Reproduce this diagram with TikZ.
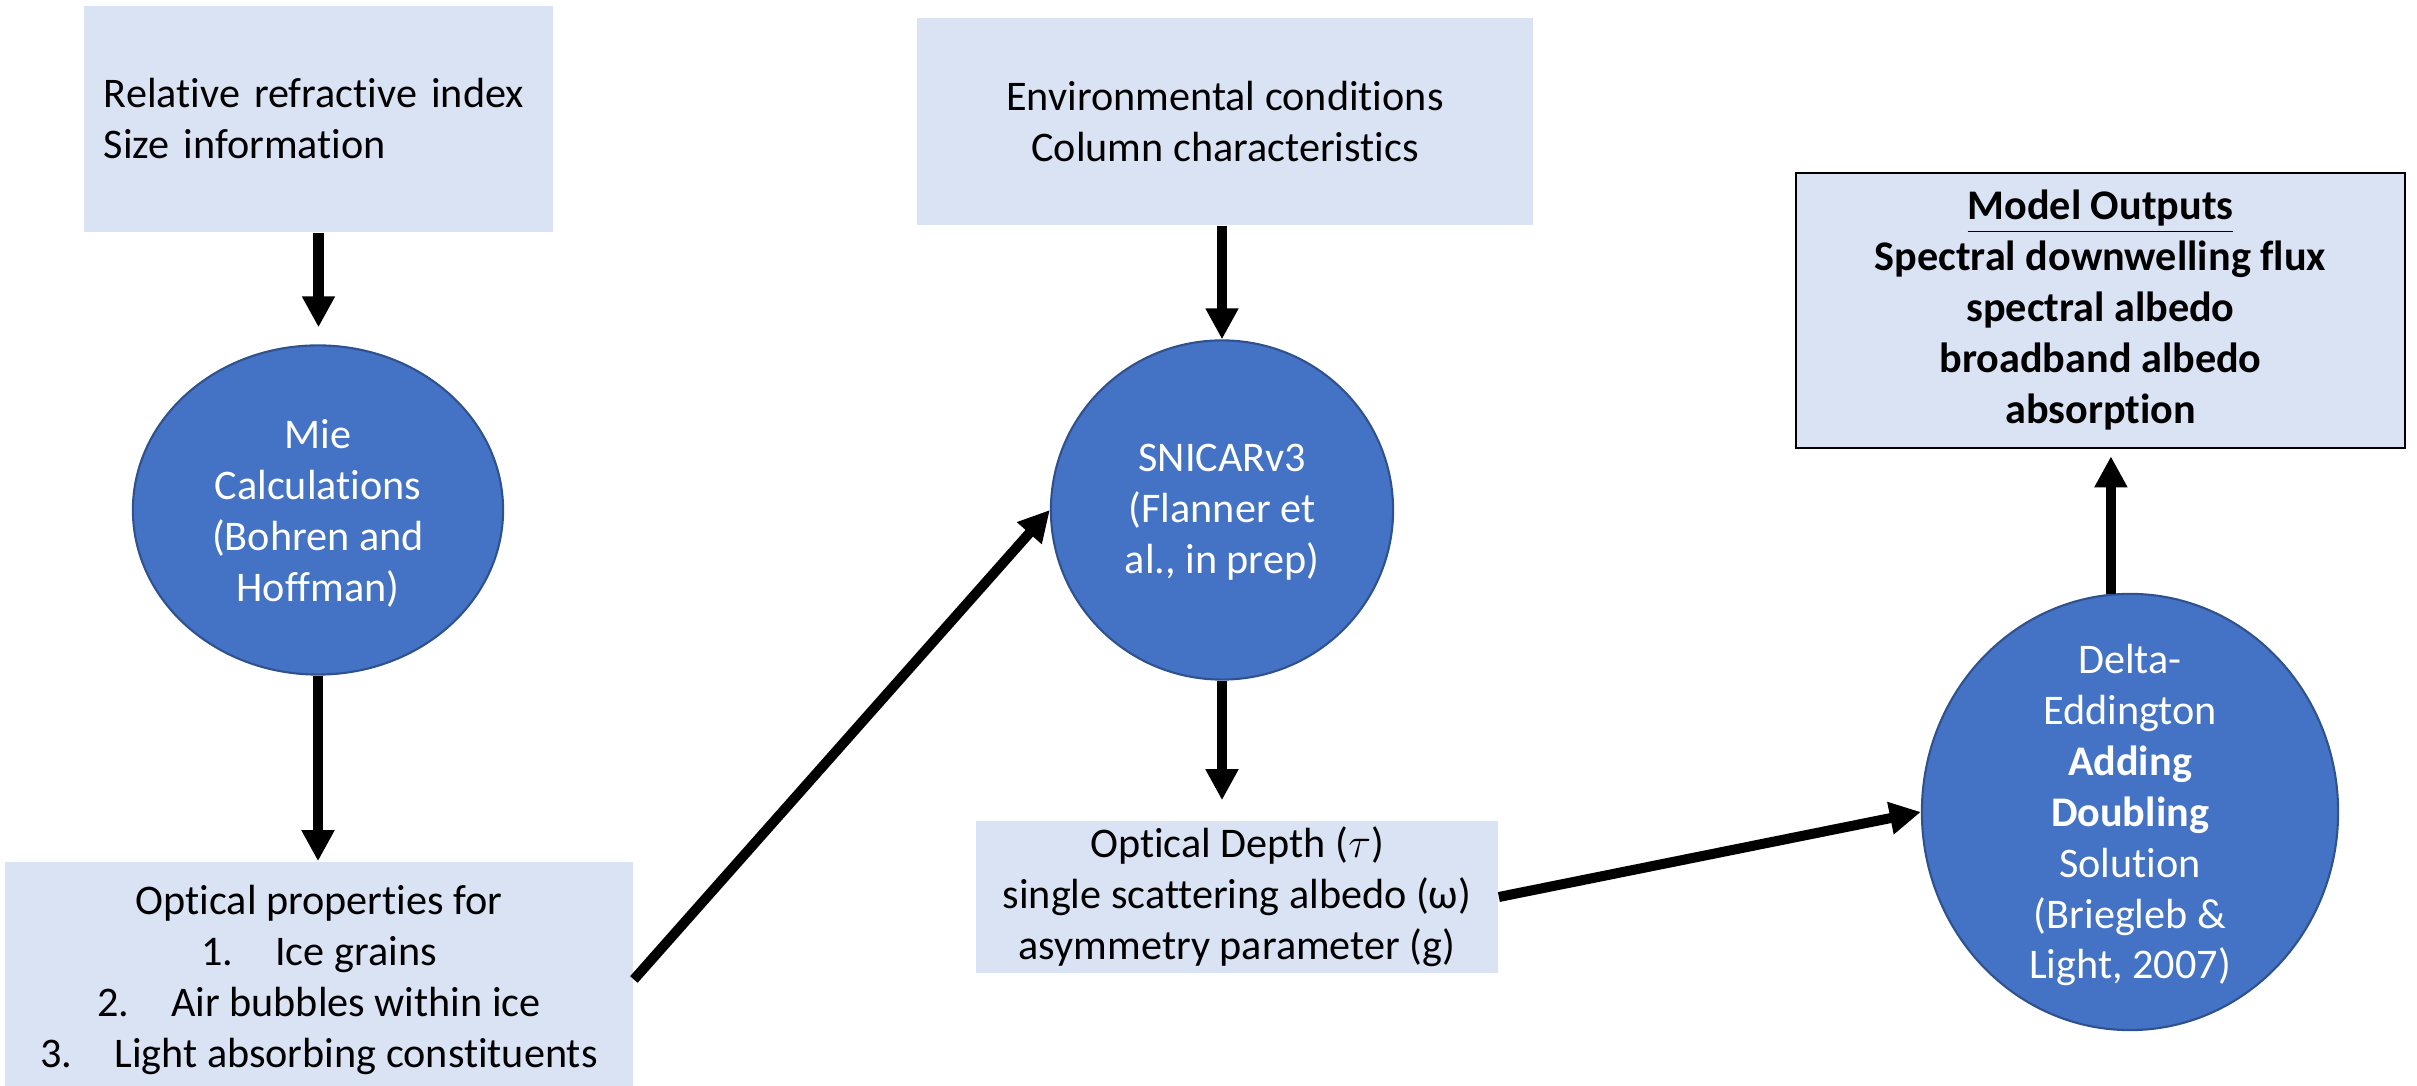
\documentclass[tikz,border=0pt]{standalone}
\usepackage{fontspec}
\setmainfont{Carlito}[Ligatures=NoCommon]
\usetikzlibrary{arrows.meta,shapes.geometric,calc}
\definecolor{paleblue}{HTML}{DAE3F3}
\definecolor{blobfill}{HTML}{4472C4}
\definecolor{blobedge}{HTML}{2F528F}

\begin{document}
\begin{tikzpicture}[x=0.01cm,y=-0.01cm,
  panel/.style={rectangle, fill=paleblue, inner sep=0pt, align=center, text=black,
                font=\fontsize{12}{14.5}\selectfont},
  blob/.style={ellipse, fill=blobfill, draw=blobedge, line width=0.6pt, inner sep=0pt},
  blobtext/.style={text=white, align=center, inner sep=0pt,
                   font=\fontsize{12}{14.5}\selectfont},
  arr/.style={line width=0.1cm, -{Triangle[length=0.31cm,width=0.31cm]}}
]
\useasboundingbox (0,0) rectangle (2417,1086);

% input panels
\node[panel, minimum width=4.69cm, minimum height=2.26cm, text width=4.29cm, align=left]
  (refr) at (318.5,119) {Relative refractive index\\Size information};
\node[panel, minimum width=6.16cm, minimum height=2.07cm]
  (env) at (1225,121.5) {Environmental conditions\\Column characteristics};

% intermediate panels
\node[panel, minimum width=6.28cm, minimum height=2.35cm]
  (props) at (319,979.5) {Optical properties for\\
    1.\hspace{0.42cm}Ice grains\\
    2.\hspace{0.42cm}Air bubbles within ice\\
    3.\hspace{0.42cm}Light absorbing constituents};
\node[panel, minimum width=5.22cm, minimum height=1.52cm]
  (od) at (1237,897) {Optical Depth ($\tau$)\\single scattering albedo (ω)\\asymmetry parameter (g)};

% output panel
\node[panel, draw=black, line width=0.7pt, minimum width=6.09cm, minimum height=2.75cm,
      font=\fontsize{12}{14.5}\selectfont\bfseries]
  (out) at (2100.5,310.5) {\underline{Model Outputs}\\Spectral downwelling flux\\spectral albedo\\broadband albedo\\absorption};

% model stages
\node[blob, minimum width=3.70cm, minimum height=3.29cm] (mie) at (318,510) {};
\node[blobtext] (mietext) at (318,513) {Mie\\Calculations\\(Bohren and\\Hoffman)};

\node[blob, minimum width=3.42cm, minimum height=3.39cm] (snicar) at (1222,510) {};
\node[blobtext] (snicartext) at (1222,512) {SNICARv3\\(Flanner et\\al., in prep)};

\node[blob, minimum width=4.16cm, minimum height=4.36cm] (de) at (2130,812) {};
\node[blobtext] (detext) at (2130,815) {Delta-\\Eddington\\\textbf{Adding}\\\textbf{Doubling}\\Solution\\(Briegleb \&\\Light, 2007)};

% flow
\draw[arr, shorten >=0.17cm] (refr.south) -- (refr.south |- mie.north);
\draw[arr] (mie.south) -- (mie.south |- props.north);
\draw[arr] (props.east) -- (snicar.west);
\draw[arr] (snicar.north |- env.south) -- (snicar.north);
\draw[arr, shorten >=0.2cm] (snicar.south) -- (snicar.south |- od.north);
\draw[arr] (od.east) -- (de.west);
\draw[arr, shorten >=0.07cm] (de.95) -- (de.95 |- out.south);
\end{tikzpicture}
\end{document}
